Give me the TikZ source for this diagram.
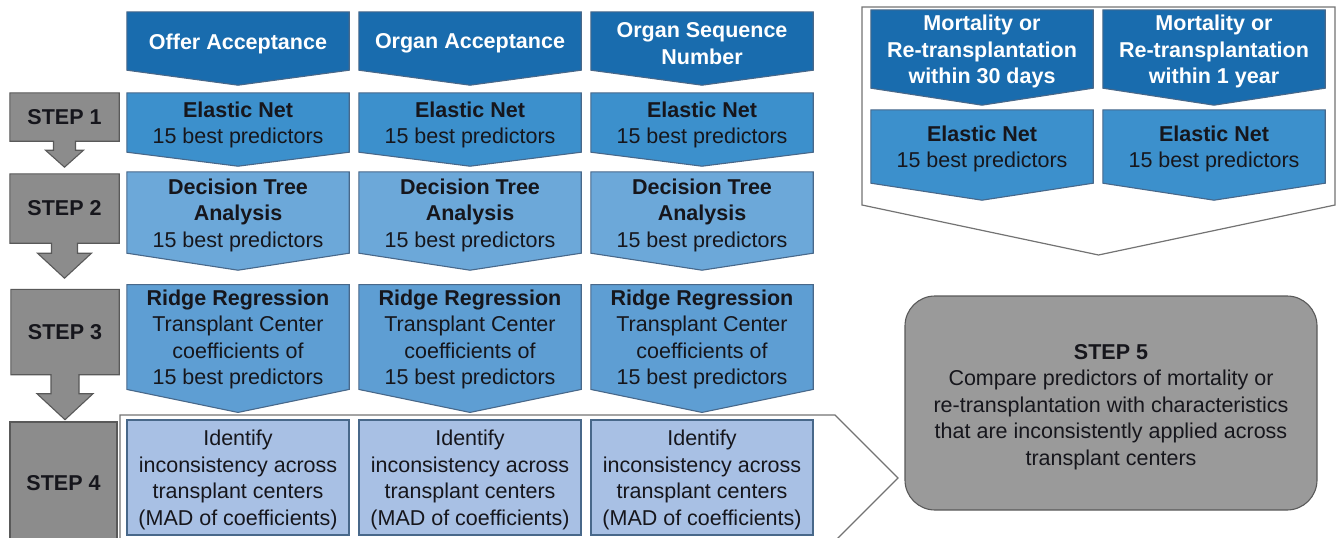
\documentclass[tikz,border=0pt]{standalone}
\usepackage{fontspec}
\setmainfont{Liberation Sans}
\usetikzlibrary{positioning}
\pgfdeclarelayer{background}
\pgfsetlayers{background,main}

\definecolor{hdrblue}{RGB}{25,108,174}
\definecolor{enblue}{RGB}{60,144,204}
\definecolor{dtblue}{RGB}{108,168,217}
\definecolor{rrblue}{RGB}{94,158,211}
\definecolor{idblue}{RGB}{168,192,228}
\definecolor{bordblue}{RGB}{72,104,138}
\definecolor{stepgray}{RGB}{140,140,140}
\definecolor{stepfive}{RGB}{154,154,154}
\definecolor{textdark}{RGB}{22,22,28}

\newcommand\boxfont{\fontsize{21.5}{26.5}\selectfont}
\newcommand\topstrut{\rule{0pt}{20.5pt}}

% chevron body behind a node: node, tip depth, fill
\newcommand\chev[3]{%
  \begin{pgfonlayer}{background}
  \draw[bordblue,line width=1.1pt,fill=#3] (#1.north west) -- (#1.north east)
    -- (#1.south east) -- ([yshift=-#2pt]#1.south) -- (#1.south west) -- cycle;
  \end{pgfonlayer}}

% grey step box with its down arrow: node, stem half, stem end, head half, tip
\newcommand\steparrow[5]{%
  \begin{pgfonlayer}{background}
  \draw[stepline] (#1.north west) -- (#1.north east) -- (#1.south east)
    -- ([xshift=#2pt]#1.south) -- ([xshift=#2pt,yshift=-#3pt]#1.south)
    -- ([xshift=#4pt,yshift=-#3pt]#1.south) -- ([yshift=-#5pt]#1.south)
    -- ([xshift=-#4pt,yshift=-#3pt]#1.south) -- ([xshift=-#2pt,yshift=-#3pt]#1.south)
    -- ([xshift=-#2pt]#1.south) -- (#1.south west) -- cycle;
  \end{pgfonlayer}}

\begin{document}
\begin{tikzpicture}[x=1pt,y=-1pt,
  stage/.style={minimum width=222pt,inner sep=0pt,align=center,font=\boxfont,text=textdark},
  steplabel/.style={inner sep=0pt,font=\boxfont\bfseries,text=textdark},
  stepline/.style={draw=black!65,line width=1.1pt,fill=stepgray},
  frame/.style={draw=black!55,line width=1.2pt,fill=white}]
\useasboundingbox (0,0) rectangle (1342,538);

% white outlines behind the groups
\begin{pgfonlayer}{background}
\draw[frame] (120,415) -- (835,415) -- (898,478) -- (835,541) -- (120,541) -- cycle;
\draw[frame] (862,7) -- (1335,7) -- (1335,205) -- (1098.5,255) -- (862,205) -- cycle;
\end{pgfonlayer}

% the three outcome columns
\foreach \nm/\cx/\ttl in {offer/238/Offer Acceptance, organ/470/Organ Acceptance,
    seq/702/{Organ Sequence\\Number}}{
  \node[stage,minimum height=58pt,text=white,font=\boxfont\bfseries] (\nm-h) at (\cx,41) {\topstrut\ttl};
  \chev{\nm-h}{15}{hdrblue}
  \node[stage,minimum height=59pt] (\nm-en) at (\cx,122.5) {\topstrut\textbf{Elastic Net}\\15 best predictors};
  \chev{\nm-en}{14}{enblue}
  \node[stage,minimum height=81pt] (\nm-dt) at (\cx,212.5) {\topstrut\textbf{Decision Tree}\\\textbf{Analysis}\\15 best predictors};
  \chev{\nm-dt}{17}{dtblue}
  \node[stage,minimum height=100pt] (\nm-rr) at (\cx,337) {\topstrut\textbf{Ridge Regression}\\Transplant Center\\coefficients of\\15 best predictors};
  \chev{\nm-rr}{23}{rrblue}
  \node[stage,minimum height=115pt,draw=bordblue,line width=1.1pt,fill=idblue] (\nm-id) at (\cx,477.5)
    {\topstrut Identify\\inconsistency across\\transplant centers\\(MAD of coefficients)};
}

% mortality panel
\foreach \nm/\cx/\ttl in {mort30/982/30 days, mort1y/1214/1 year}{
  \node[stage,minimum height=72pt,text=white,font=\boxfont\bfseries] (\nm-h) at (\cx,49)
    {\topstrut Mortality or\\Re-transplantation\\within \ttl};
  \chev{\nm-h}{17}{hdrblue}
  \node[stage,minimum height=73pt] (\nm-en) at (\cx,146.5) {\topstrut\textbf{Elastic Net}\\15 best predictors};
  \chev{\nm-en}{17}{enblue}
}

% steps
\node[steplabel,minimum width=109pt,minimum height=48pt] (step1) at (64.5,117) {STEP 1};
\steparrow{step1}{11}{9}{19}{26}
\node[steplabel,minimum width=109pt,minimum height=69pt] (step2) at (64.5,208.5) {STEP 2};
\steparrow{step2}{13}{10}{27}{35}
\node[steplabel,minimum width=108pt,minimum height=85pt] (step3) at (65,332) {STEP 3};
\steparrow{step3}{14}{19}{28}{45}
\node[steplabel,minimum width=107pt,minimum height=123pt,draw=black!65,line width=1.1pt,fill=stepgray]
  (step4) at (63.5,483.5) {STEP 4};

\node[rounded corners=30pt,draw=black!65,line width=1.1pt,fill=stepfive,minimum width=412pt,
  minimum height=214pt,align=center,font=\boxfont,text=textdark,inner sep=0pt] (step5) at (1111,403)
  {\rule{0pt}{23pt}\textbf{STEP 5}\\Compare predictors of mortality or\\re-transplantation with characteristics\\that are inconsistently applied across\\transplant centers};
\end{tikzpicture}
\end{document}
